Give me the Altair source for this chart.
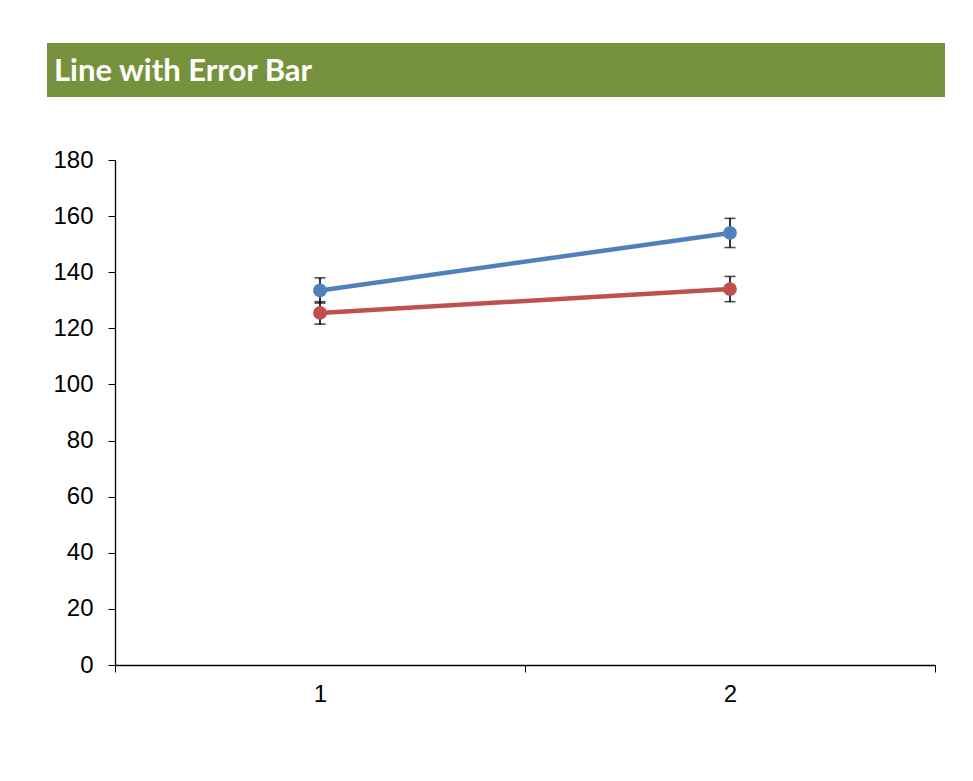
import altair as alt
import pandas as pd

# ---- data ----
categories = [1, 2]
series_names = ["Series 1", "Series 2"]
series1_values = [133.5, 154.0]
series1_errors = [4.5, 5.2]
series2_values = [125.5, 134.0]
series2_errors = [4.0, 4.5]
series_colors = ["#4F81BD", "#C0504D"]
y_ticks = [0, 20, 40, 60, 80, 100, 120, 140, 160, 180]
x_ticks = [0.5, 1, 1.5, 2, 2.5]
title_text = "Line with Error Bar"

rows = []
for name, vals, errs in [(series_names[0], series1_values, series1_errors),
                         (series_names[1], series2_values, series2_errors)]:
    for c, v, e in zip(categories, vals, errs):
        rows.append({"cat": c, "series": name, "value": v, "lo": v - e, "hi": v + e})
df = pd.DataFrame(rows)

xs = alt.Scale(domain=[0.5, 2.5], nice=False, zero=False)
ys = alt.Scale(domain=[0, 180], nice=False)
color = alt.Color("series:N", scale=alt.Scale(domain=series_names, range=series_colors), legend=None)

x_axis = alt.Axis(
    values=x_ticks,
    labelExpr="datum.value % 1 === 0 ? format(datum.value, 'd') : ''",
    tickOpacity={"condition": {"test": "datum.value % 1 === 0", "value": 0}, "value": 1},
    tickSize=7, tickColor="#000000", domainColor="#000000", domainWidth=1.3,
    labelFont="Liberation Sans", labelFontSize=24, labelColor="#000000",
    labelPadding=10, grid=False, title=None,
)
y_axis = alt.Axis(
    values=y_ticks, tickSize=7, tickColor="#000000", domainColor="#000000", domainWidth=1.3,
    labelFont="Liberation Sans", labelFontSize=24, labelColor="#000000",
    labelPadding=15, grid=False, title=None,
)

X = alt.X("cat:Q", scale=xs, axis=x_axis)
base = alt.Chart(df)

rules = base.mark_rule(color="black", strokeWidth=1.6).encode(
    x=X, y=alt.Y("lo:Q", scale=ys, axis=y_axis), y2="hi:Q")
cap_hi = base.mark_tick(orient="horizontal", size=11, thickness=1.6, color="black").encode(
    x=X, y=alt.Y("hi:Q", scale=ys))
cap_lo = base.mark_tick(orient="horizontal", size=11, thickness=1.6, color="black").encode(
    x=X, y=alt.Y("lo:Q", scale=ys))
lines = base.mark_line(strokeWidth=4.5).encode(
    x=X, y=alt.Y("value:Q", scale=ys), color=color, detail="series:N")
points = base.mark_circle(size=190, opacity=1).encode(
    x=X, y=alt.Y("value:Q", scale=ys), color=color)

banner_df = pd.DataFrame({"t": [title_text]})
banner = alt.Chart(banner_df).mark_rect(color="#76923C").encode(
    x=alt.value(-68), x2=alt.value(830), y=alt.value(-117), y2=alt.value(-63))
banner_text = alt.Chart(banner_df).mark_text(
    align="left", baseline="middle", font="Lato", fontWeight="bold",
    fontSize=31, color="white").encode(x=alt.value(-61), y=alt.value(-88), text="t:N")

chart = alt.layer(banner, banner_text, rules, cap_hi, cap_lo, lines, points).properties(
    width=820, height=505,
    autosize=alt.AutoSizeParams(type="none"),
    padding={"left": 107, "top": 152, "right": 30, "bottom": 100},
).configure_view(stroke="transparent")

chart.save("out.html", embed_options={"renderer": "svg", "actions": False})
